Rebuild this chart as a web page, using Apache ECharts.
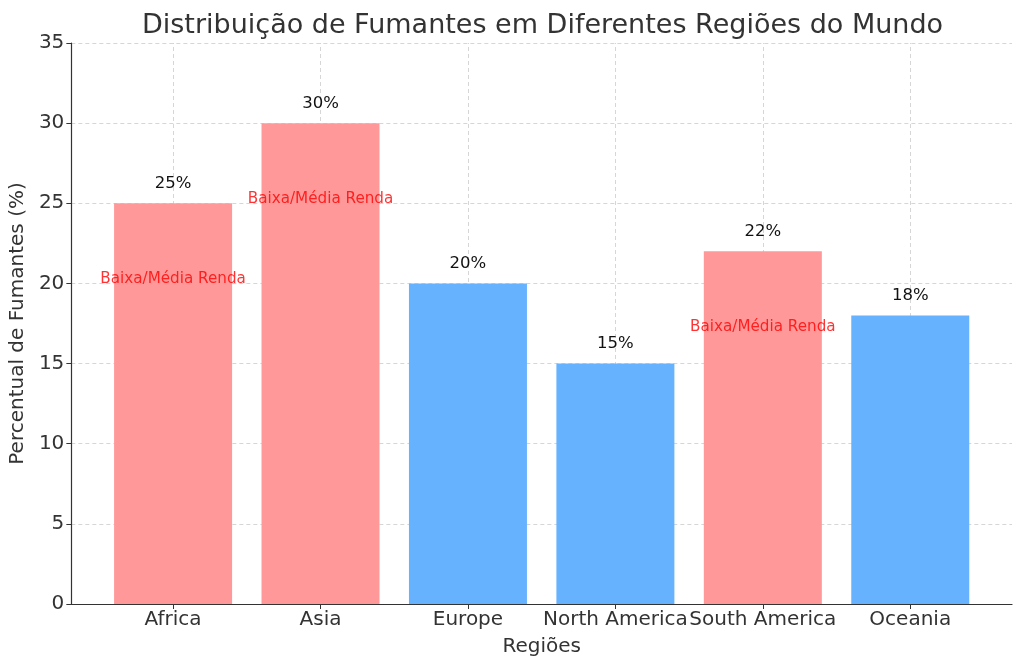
<!DOCTYPE html>
<html><head><meta charset="utf-8">
<script src="https://cdn.jsdelivr.net/npm/echarts@6/dist/echarts.min.js"></script>
<style>html,body{margin:0;padding:0;background:#fff}#c{width:1024px;height:670px}</style>
</head><body><div id="c"></div>
<script>
const categories = ['Africa', 'Asia', 'Europe', 'North America', 'South America', 'Oceania'];
const smokerPercent = [25, 30, 20, 15, 22, 18];
const lowMiddleIncome = [true, true, false, false, true, false];
const annotationText = 'Baixa/Média Renda';
const yTicks = [0, 5, 10, 15, 20, 25, 30, 35];

const RED = '#FF9999', BLUE = '#66B2FF', TXT = '#333333';
const FONT = 'DejaVu Sans';
const idx = categories.map((_, i) => i);

const chart = echarts.init(document.getElementById('c'), null, {renderer: 'canvas'});
chart.setOption({
  animation: false,
  backgroundColor: '#fff',
  textStyle: {fontFamily: FONT},
  title: {
    text: 'Distribuição de Fumantes em Diferentes Regiões do Mundo',
    left: 137, top: 7,
    textStyle: {fontFamily: FONT, fontSize: 27, fontWeight: 'normal', color: TXT}
  },
  grid: {left: 70, right: 12, top: 43, bottom: 66, containLabel: false},
  xAxis: {
    type: 'value', min: -0.69, max: 5.69,
    name: 'Regiões', nameLocation: 'middle', nameGap: 33,
    nameTextStyle: {fontFamily: FONT, fontSize: 20, color: TXT},
    axisLine: {show: true, onZero: false, lineStyle: {color: TXT, width: 1.2}},
    axisTick: {show: true, customValues: idx, length: 5, lineStyle: {color: TXT}},
    axisLabel: {customValues: idx, formatter: v => categories[Math.round(v)] || '', fontFamily: FONT, fontSize: 20, color: TXT, margin: 6},
    splitLine: {show: false}
  },
  yAxis: {
    type: 'value', min: 0, max: 35, interval: 5,
    name: 'Percentual de Fumantes (%)', nameLocation: 'middle', nameGap: 38,
    nameTextStyle: {fontFamily: FONT, fontSize: 20, color: TXT},
    axisLine: {show: true, onZero: false, lineStyle: {color: TXT, width: 1.2}},
    axisTick: {show: true, length: 5, lineStyle: {color: TXT}},
    axisLabel: {fontFamily: FONT, fontSize: 20, color: TXT, margin: 7},
    splitLine: {show: true, lineStyle: {color: '#cccccc', type: [4, 3], width: 0.8}}
  },
  series: [
    {
      type: 'bar', barWidth: 118,
      data: smokerPercent.map((v, i) => ({value: [i, v], itemStyle: {color: lowMiddleIncome[i] ? RED : BLUE}})),
      label: {show: true, position: 'top', distance: 11, formatter: p => p.value[1] + '%', fontFamily: FONT, fontSize: 16.5, color: '#111'},
      markLine: {
        silent: true, symbol: 'none', z: 1,
        label: {show: false},
        lineStyle: {color: '#cccccc', type: [4, 3], width: 0.8},
        data: idx.map(i => ({xAxis: i}))
      },
      z: 2
    },
    {
      type: 'scatter', symbolSize: 0, z: 5,
      data: smokerPercent.map((v, i) => lowMiddleIncome[i] ? [i, v - 5] : null).filter(d => d),
      label: {show: true, position: 'top', distance: 0, offset: [0, 3], formatter: annotationText, fontFamily: FONT, fontSize: 15.2, color: '#ff0000'}
    }
  ]
});
</script></body></html>
